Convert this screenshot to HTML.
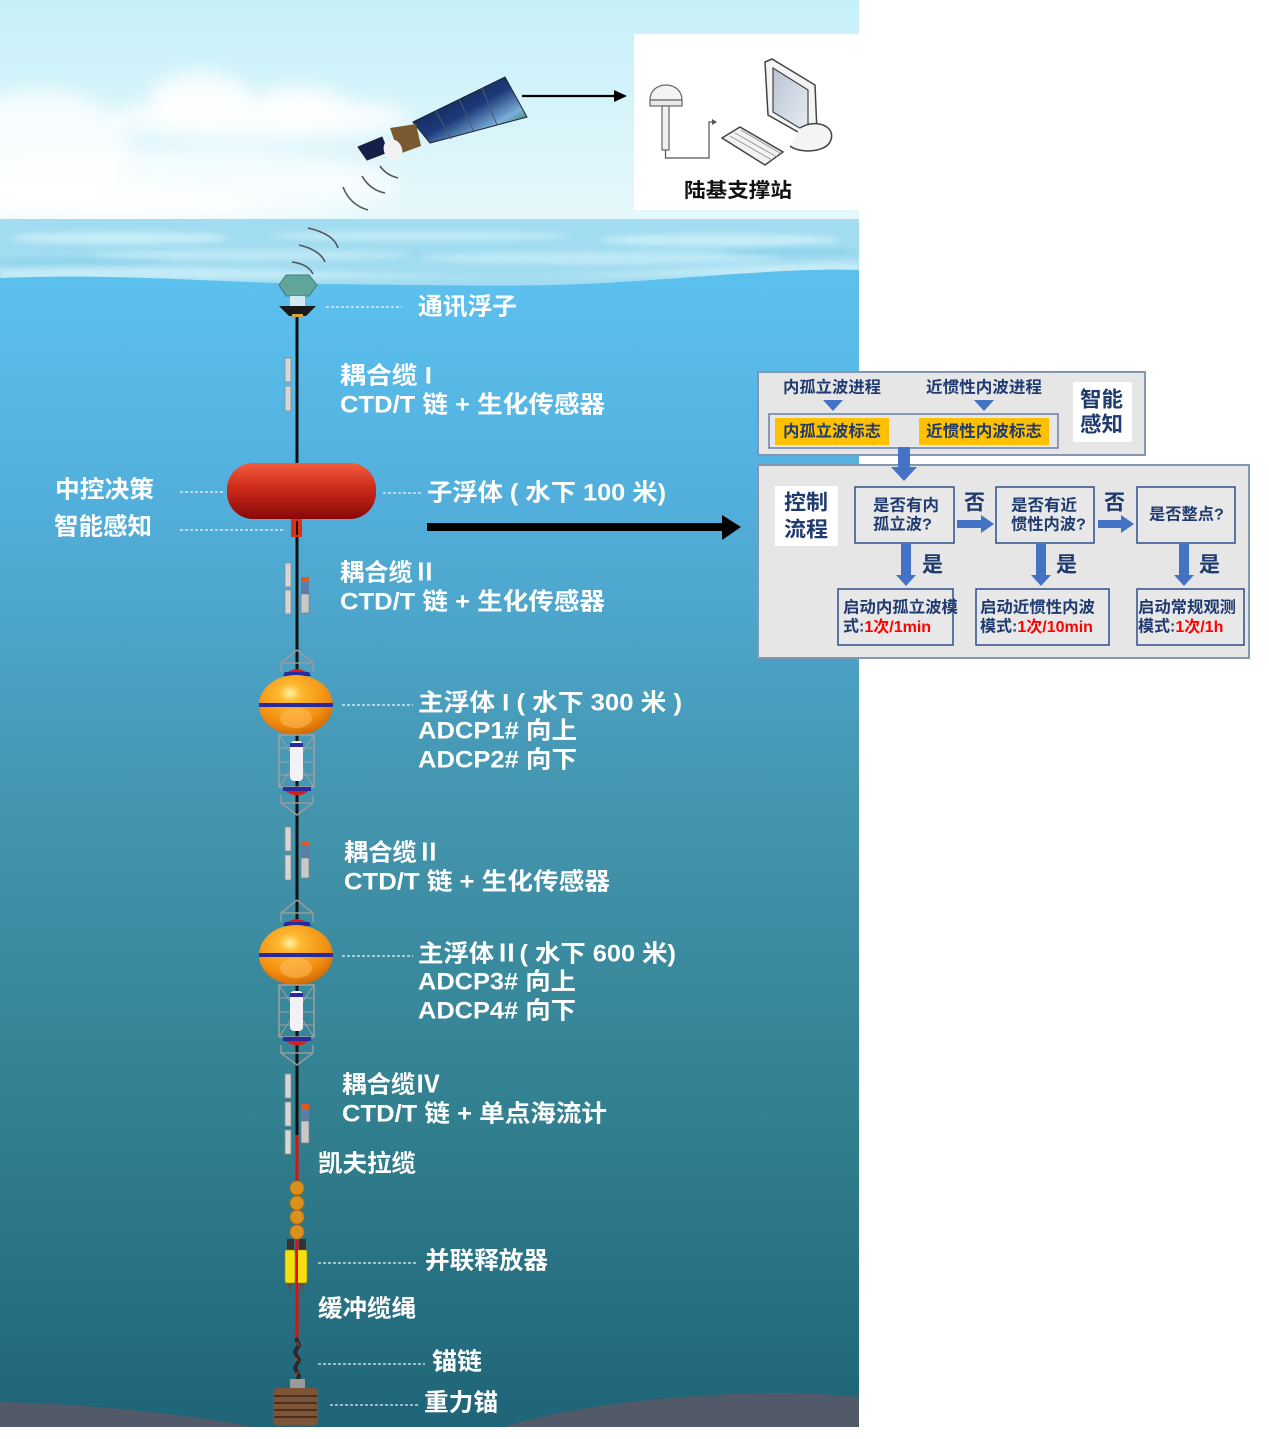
<!DOCTYPE html>
<html><head><meta charset="utf-8">
<style>
html,body{margin:0;padding:0;background:#fff;}
svg{display:block}
text{font-family:"Liberation Sans","Noto Sans CJK SC",sans-serif;font-weight:bold;}
.w{fill:#fff;font-size:24px;}
.n{fill:#1f3a6e;}
.ld{stroke:#fff;stroke-width:1.2;stroke-dasharray:3 2;opacity:.9;fill:none}
</style></head><body>
<svg width="1269" height="1439" viewBox="0 0 1269 1439" xmlns="http://www.w3.org/2000/svg">
<defs>
 <clipPath id="img"><rect x="0" y="0" width="859" height="1427"/></clipPath>
 <linearGradient id="sky" x1="0" y1="0" x2="0" y2="1">
  <stop offset="0" stop-color="#c6f0f9"/><stop offset="1" stop-color="#e6f8fb"/>
 </linearGradient>
 <linearGradient id="sea" x1="0" y1="280" x2="0" y2="1427" gradientUnits="userSpaceOnUse">
  <stop offset="0" stop-color="#5cc0ef"/>
  <stop offset="0.19" stop-color="#52afdc"/>
  <stop offset="0.44" stop-color="#4597b1"/>
  <stop offset="0.75" stop-color="#307e8d"/>
  <stop offset="1" stop-color="#1f6478"/>
 </linearGradient>
 <linearGradient id="red" x1="0" y1="0" x2="0" y2="1">
  <stop offset="0" stop-color="#f25c3e"/><stop offset="0.45" stop-color="#cc2a1a"/><stop offset="1" stop-color="#880808"/>
 </linearGradient>
 <radialGradient id="orb" cx="0.42" cy="0.3" r="0.75">
  <stop offset="0" stop-color="#fff2a0"/><stop offset="0.2" stop-color="#ffb830"/><stop offset="0.7" stop-color="#f08c10"/><stop offset="1" stop-color="#c86400"/>
 </radialGradient>
 <linearGradient id="panel" x1="0" y1="0" x2="1" y2="1">
  <stop offset="0" stop-color="#0b1430"/><stop offset="0.5" stop-color="#1c3a7a"/><stop offset="0.72" stop-color="#7ab0d8"/><stop offset="0.85" stop-color="#3a7a5a"/><stop offset="1" stop-color="#0b1836"/>
 </linearGradient>
 <linearGradient id="scr" x1="0" y1="0" x2="1" y2="1">
  <stop offset="0" stop-color="#b8c4d4"/><stop offset="1" stop-color="#e8ecf2"/>
 </linearGradient>
 <filter id="bl" x="-50%" y="-50%" width="200%" height="200%"><feGaussianBlur stdDeviation="9"/></filter>
 <filter id="bl2" x="-50%" y="-50%" width="200%" height="200%"><feGaussianBlur stdDeviation="3"/></filter>
</defs>

<g clip-path="url(#img)">
<!-- SKY -->
<rect x="0" y="0" width="859" height="222" fill="url(#sky)"/>
<g filter="url(#bl)" fill="#fff">
 <ellipse cx="260" cy="118" rx="150" ry="22" opacity=".85"/>
 <ellipse cx="200" cy="98" rx="50" ry="26" opacity=".85"/>
 <ellipse cx="300" cy="105" rx="45" ry="20" opacity=".75"/>
 <ellipse cx="40" cy="150" rx="90" ry="60" opacity=".8"/>
 <ellipse cx="180" cy="185" rx="220" ry="35" opacity=".7"/>
 <ellipse cx="100" cy="205" rx="160" ry="20" opacity=".75"/>
</g>

<!-- SURFACE BAND -->
<rect x="0" y="219" width="859" height="70" fill="#a2dcf0"/>
<g filter="url(#bl2)">
 <ellipse cx="120" cy="238" rx="110" ry="6" fill="#c6edf8"/>
 <ellipse cx="420" cy="236" rx="150" ry="5" fill="#c0eaf6"/>
 <ellipse cx="720" cy="240" rx="120" ry="6" fill="#c6edf8"/>
 <ellipse cx="250" cy="255" rx="160" ry="5" fill="#bde9f6"/>
 <ellipse cx="600" cy="258" rx="180" ry="6" fill="#bde9f6"/>
 <ellipse cx="80" cy="262" rx="90" ry="4" fill="#8fd3ec"/>
 <ellipse cx="790" cy="252" rx="70" ry="4" fill="#8fd3ec"/>
 <path d="M0,270 C150,262 300,272 450,276 C600,280 750,262 859,262 L859,275 L0,280 Z" fill="#c4ecf7"/>
</g>
<!-- WATER -->
<path d="M0,278 C120,273 220,283 320,284 C440,285 530,288 620,282 C720,276 790,268 859,270 L859,1427 L0,1427 Z" fill="url(#sea)"/>
<!-- SEAFLOOR -->
<path d="M0,1402 C60,1403 160,1410 255,1427 L505,1427 C570,1405 690,1393 780,1393 C820,1393 845,1396 859,1397 L859,1427 L0,1427 Z" fill="#525a69"/>
</g>

<!-- STATION -->
<rect x="634" y="34" width="225" height="176" fill="#fff"/>
<path d="M650,100 C650,80 682,80 682,100 Z" fill="#f4f4f4" stroke="#666" stroke-width="1.2"/>
<rect x="650" y="100" width="32" height="6" fill="#e8e8e8" stroke="#666" stroke-width="1.2"/>
<rect x="662" y="106" width="7" height="44" fill="#f0f0f0" stroke="#666" stroke-width="1.2"/>
<path d="M665.5,150 L665.5,158 L709,158 L709,122 L713,122" fill="none" stroke="#555" stroke-width="1.2"/>
<path d="M712,119 L717,122 L712,125 Z" fill="#555"/>
<path d="M765,62 L772,59 L815,85 L817,132 L812,140 L768,115 Z" fill="#f4f4f4" stroke="#444" stroke-width="1.5"/>
<path d="M773,68 L808,90 L808,133 L773,112 Z" fill="url(#scr)" stroke="#444" stroke-width="1.2"/>
<path d="M800,128 C815,118 838,126 830,142 C825,152 800,154 790,146" fill="#f4f4f4" stroke="#444" stroke-width="1.5"/>
<path d="M722,138 L740,127 L783,152 L765,165 Z" fill="#f2f2f2" stroke="#444" stroke-width="1.5"/>
<g stroke="#999" stroke-width="1" fill="none">
 <path d="M730,136 L772,160"/><path d="M735,133 L777,157"/><path d="M741,130 L780,153"/>
</g>
<text x="738" y="191" font-size="20" fill="#111" dominant-baseline="central" text-anchor="middle" textLength="108" lengthAdjust="spacingAndGlyphs">陆基支撑站</text>

<!-- SATELLITE ARROW -->
<line x1="522" y1="96" x2="616" y2="96" stroke="#000" stroke-width="2.2"/>
<path d="M614,90 L627,96 L614,102 Z" fill="#000"/>

<!-- SATELLITE -->
<path d="M413,122 L505,77 L527,117 L430,143 Z" fill="url(#panel)" stroke="#223" stroke-width="1"/>
<g stroke="#556" stroke-width="1"><line x1="436" y1="111" x2="451" y2="139"/><line x1="459" y1="99" x2="474" y2="132"/><line x1="482" y1="88" x2="497" y2="125"/></g>
<path d="M358,147 L382,137 L388,152 L367,160 Z" fill="#14204a" stroke="#223" stroke-width="1"/>
<path d="M390,128 L416,124 L421,146 L399,154 Z" fill="#7a5a30"/>
<ellipse cx="393" cy="150" rx="9" ry="11" fill="#f2f2f2" transform="rotate(-25 393 150)"/>
<g fill="none" stroke="#555" stroke-width="1.6">
 <path d="M380,166 Q386,175 398,178"/>
 <path d="M362,176 Q370,190 385,193"/>
 <path d="M343,187 Q350,205 368,210"/>
</g>

<!-- BUOY WAVES -->
<g fill="none" stroke="#555" stroke-width="1.6">
 <path d="M292,262 Q308,264 313,274"/>
 <path d="M299,245 Q320,250 325,262"/>
 <path d="M308,228 Q334,234 338,248"/>
</g>

<!-- MAIN LINE -->
<line x1="297" y1="312" x2="297" y2="1140" stroke="#111" stroke-width="3"/>
<line x1="297" y1="1135" x2="297" y2="1340" stroke="#e01010" stroke-width="3"/>
<path d="M296,1338 L299,1345 L295,1352 L299,1360 L295,1368 L299,1376 L296,1384" fill="none" stroke="#2a2a2a" stroke-width="4"/>
<path d="M297,1342 l2,4 M296,1358 l2,3 M298,1372 l-2,3" stroke="#c03030" stroke-width="1.5"/>

<!-- COMM BUOY -->
<path d="M286,275 L309,275 L317,285 L309,296 L286,296 L279,285 Z" fill="#5fa59a" stroke="#3f7f78" stroke-width="1"/>
<rect x="290" y="296" width="15" height="10" fill="#cfe9f5"/>
<path d="M279,306 L316,306 L306,316 L289,316 Z" fill="#1a1a1a"/>
<rect x="292" y="314" width="11" height="3" fill="#c9a640"/>

<!-- SENSORS -->
<g fill="#d6d6d6" stroke="#8a8a8a" stroke-width="0.8">
 <rect x="285" y="358" width="6" height="24"/><rect x="285" y="386" width="6" height="25"/>
 <rect x="285" y="563" width="6" height="24"/><rect x="285" y="590" width="6" height="24"/>
 <rect x="285" y="827" width="6" height="24"/><rect x="285" y="855" width="6" height="25"/>
 <rect x="285" y="1074" width="6" height="24"/><rect x="285" y="1102" width="6" height="24"/><rect x="285" y="1130" width="6" height="24"/>
</g>
<g>
 <rect x="301" y="577" width="8" height="5" fill="#e05a20"/><rect x="301" y="582" width="8" height="12" fill="#5a7ea8"/><rect x="301" y="594" width="8" height="19" fill="#c8c8c8" stroke="#777" stroke-width=".6"/>
 <rect x="301" y="841" width="8" height="5" fill="#e05a20"/><rect x="301" y="846" width="8" height="12" fill="#5a7ea8"/><rect x="301" y="858" width="8" height="20" fill="#c8c8c8" stroke="#777" stroke-width=".6"/>
 <rect x="301" y="1104" width="8" height="5" fill="#e05a20"/><rect x="301" y="1109" width="8" height="12" fill="#5a7ea8"/><rect x="301" y="1121" width="8" height="22" fill="#c8c8c8" stroke="#777" stroke-width=".6"/>
</g>

<!-- SUB FLOAT -->
<rect x="227" y="463" width="149" height="56" rx="26" fill="url(#red)"/>
<rect x="291" y="519" width="11" height="18" fill="#e03010"/>
<line x1="297" y1="521" x2="297" y2="535" stroke="#111" stroke-width="2"/>

<!-- MAIN FLOAT I -->
<g id="mf">
 <path d="M297,650 L281,663 L281,672 M297,650 L313,663 L313,672 M281,663 L313,663" fill="none" stroke="#9a9a9a" stroke-width="1.5"/>
 <path d="M283,676 Q297,662 311,676 Z" fill="#d02020"/><path d="M283,676 L311,676 L309,672 L285,672 Z" fill="#2a2aa0"/>
 <ellipse cx="296" cy="705" rx="37" ry="30" fill="url(#orb)"/>
 <ellipse cx="296" cy="718" rx="16" ry="10" fill="#ffc060" opacity=".5"/>
 <rect x="259" y="703" width="74" height="4" fill="#2a2aa0"/>
 <rect x="279" y="735" width="35" height="52" fill="none" stroke="#a0a0a0" stroke-width="1.5"/>
 <path d="M279,748 L314,748 M279,762 L314,762 M279,775 L314,775 M279,735 L314,787 M314,735 L279,787" stroke="#a0a0a0" stroke-width="1"/>
 <rect x="290" y="741" width="13" height="40" rx="4" fill="#f2f2f6"/>
 <rect x="290" y="743" width="13" height="4" fill="#2a2aa0"/>
 <path d="M283,789 L311,789 Q297,802 283,789 Z" fill="#d02020"/><rect x="283" y="787" width="28" height="4" fill="#2a2aa0"/>
 <path d="M281,795 L281,803 L297,815 L313,803 L313,795 M281,803 L313,803" fill="none" stroke="#9a9a9a" stroke-width="1.5"/>
</g>
<use href="#mf" transform="translate(0,250)"/>

<!-- LOWER HARDWARE -->
<g fill="#d9911e" stroke="#b06a10" stroke-width=".8">
 <circle cx="297" cy="1188" r="7"/>
 <circle cx="297" cy="1203" r="7"/><circle cx="297" cy="1217" r="7"/><circle cx="297" cy="1232" r="7"/>
</g>
<rect x="287" y="1239" width="7" height="11" fill="#333"/><rect x="299" y="1239" width="7" height="11" fill="#333"/>
<rect x="285" y="1250" width="10" height="33" rx="2" fill="#f2e010" stroke="#a09000" stroke-width=".6"/>
<rect x="297" y="1250" width="10" height="33" rx="2" fill="#f2e010" stroke="#a09000" stroke-width=".6"/>
<path d="M287,1283 L293,1283 L290,1293 Z M299,1283 L305,1283 L302,1293 Z" fill="#555"/>
<line x1="297" y1="1240" x2="297" y2="1290" stroke="#e01010" stroke-width="2"/>
<rect x="290" y="1379" width="15" height="10" fill="#9a9a9a"/>
<rect x="273" y="1388" width="45" height="37" rx="4" fill="#7d5438"/>
<g stroke="#4a2e1e" stroke-width="2"><line x1="274" y1="1396" x2="317" y2="1396"/><line x1="274" y1="1403" x2="317" y2="1403"/><line x1="274" y1="1410" x2="317" y2="1410"/><line x1="274" y1="1417" x2="317" y2="1417"/></g>

<!-- LEADERS -->
<line class="ld" x1="326" y1="307" x2="402" y2="307"/>
<line class="ld" x1="180" y1="492" x2="225" y2="492"/>
<line class="ld" x1="180" y1="530" x2="283" y2="530"/>
<line class="ld" x1="383" y1="493" x2="421" y2="493"/>
<line class="ld" x1="342" y1="705" x2="413" y2="705"/>
<line class="ld" x1="342" y1="956" x2="413" y2="956"/>
<line class="ld" x1="318" y1="1263" x2="418" y2="1263"/>
<line class="ld" x1="318" y1="1364" x2="425" y2="1364"/>
<line class="ld" x1="330" y1="1405" x2="420" y2="1405"/>

<!-- WHITE LABELS -->
<g class="w" dominant-baseline="central">
<text x="418" y="307" textLength="99" lengthAdjust="spacingAndGlyphs">通讯浮子</text>
<text x="340" y="376" textLength="92" lengthAdjust="spacingAndGlyphs">耦合缆 I</text>
<text x="340" y="405" textLength="265" lengthAdjust="spacingAndGlyphs">CTD/T 链 + 生化传感器</text>
<text x="55" y="490" textLength="99" lengthAdjust="spacingAndGlyphs">中控决策</text>
<text x="54" y="527" textLength="98" lengthAdjust="spacingAndGlyphs">智能感知</text>
<text x="427" y="493" textLength="239" lengthAdjust="spacingAndGlyphs">子浮体 ( 水下 100 米)</text>
<text x="340" y="573" textLength="97" lengthAdjust="spacingAndGlyphs">耦合缆Ⅱ</text>
<text x="340" y="602" textLength="265" lengthAdjust="spacingAndGlyphs">CTD/T 链 + 生化传感器</text>
<text x="418" y="703" textLength="264" lengthAdjust="spacingAndGlyphs">主浮体 I ( 水下 300 米 )</text>
<text x="418" y="731" textLength="159" lengthAdjust="spacingAndGlyphs">ADCP1# 向上</text>
<text x="418" y="760" textLength="159" lengthAdjust="spacingAndGlyphs">ADCP2# 向下</text>
<text x="344" y="853" textLength="97" lengthAdjust="spacingAndGlyphs">耦合缆Ⅱ</text>
<text x="344" y="882" textLength="266" lengthAdjust="spacingAndGlyphs">CTD/T 链 + 生化传感器</text>
<text x="418" y="954" textLength="258" lengthAdjust="spacingAndGlyphs">主浮体Ⅱ( 水下 600 米)</text>
<text x="418" y="982" textLength="158" lengthAdjust="spacingAndGlyphs">ADCP3# 向上</text>
<text x="418" y="1011" textLength="158" lengthAdjust="spacingAndGlyphs">ADCP4# 向下</text>
<text x="342" y="1085" textLength="98" lengthAdjust="spacingAndGlyphs">耦合缆Ⅳ</text>
<text x="342" y="1114" textLength="265" lengthAdjust="spacingAndGlyphs">CTD/T 链 + 单点海流计</text>
<text x="318" y="1164" textLength="98" lengthAdjust="spacingAndGlyphs">凯夫拉缆</text>
<text x="425" y="1261" textLength="123" lengthAdjust="spacingAndGlyphs">并联释放器</text>
<text x="318" y="1309" textLength="98" lengthAdjust="spacingAndGlyphs">缓冲缆绳</text>
<text x="432" y="1362" textLength="50" lengthAdjust="spacingAndGlyphs">锚链</text>
<text x="424" y="1403" textLength="74" lengthAdjust="spacingAndGlyphs">重力锚</text>
</g>

<!-- BIG ARROW -->
<rect x="427" y="523" width="298" height="8" fill="#000"/>
<path d="M722,515 L741,527 L722,540 Z" fill="#000"/>

<!-- FLOW CHART: top panel -->
<rect x="758" y="372" width="387" height="83" fill="#e6e6e6" stroke="#8497b0" stroke-width="2"/>
<g class="n" font-size="16" dominant-baseline="central">
 <text x="783" y="388" textLength="98" lengthAdjust="spacingAndGlyphs">内孤立波进程</text>
 <text x="926" y="388" textLength="116" lengthAdjust="spacingAndGlyphs">近惯性内波进程</text>
</g>
<path d="M823,400 L843,400 L833,411 Z M974,400 L994,400 L984,411 Z" fill="#4472c4"/>
<rect x="769" y="414" width="289" height="34" fill="#e6e6e6" stroke="#6b7ea8" stroke-width="1.5"/>
<rect x="775" y="418" width="114" height="27" fill="#ffc000"/>
<rect x="919" y="418" width="130" height="27" fill="#ffc000"/>
<g class="n" font-size="16" dominant-baseline="central">
 <text x="783" y="432" textLength="98" lengthAdjust="spacingAndGlyphs">内孤立波标志</text>
 <text x="926" y="432" textLength="116" lengthAdjust="spacingAndGlyphs">近惯性内波标志</text>
</g>
<rect x="1073" y="382" width="59" height="60" fill="#fff"/>
<g class="n" font-size="21" dominant-baseline="central">
 <text x="1080" y="400" textLength="43" lengthAdjust="spacingAndGlyphs">智能</text>
 <text x="1080" y="425" textLength="43" lengthAdjust="spacingAndGlyphs">感知</text>
</g>

<!-- bottom panel -->
<rect x="758" y="465" width="491" height="193" fill="#e6e6e6" stroke="#8497b0" stroke-width="2"/>
<rect x="898" y="447" width="12" height="22" fill="#4472c4"/>
<path d="M891,467 L917,467 L904,481 Z" fill="#4472c4"/>
<rect x="775" y="486" width="63" height="60" fill="#fff"/>
<g class="n" font-size="21" dominant-baseline="central">
 <text x="784" y="503" textLength="44" lengthAdjust="spacingAndGlyphs">控制</text>
 <text x="784" y="530" textLength="44" lengthAdjust="spacingAndGlyphs">流程</text>
</g>
<g fill="#e8e8e8" stroke="#2f4f8a" stroke-width="1.5">
 <rect x="855" y="487" width="99" height="56"/>
 <rect x="996" y="487" width="98" height="56"/>
 <rect x="1137" y="487" width="98" height="56"/>
 <rect x="838" y="589" width="115" height="56"/>
 <rect x="976" y="589" width="133" height="56"/>
 <rect x="1137" y="589" width="107" height="56"/>
</g>
<g class="n" font-size="16" dominant-baseline="central">
 <text x="873" y="506" textLength="66" lengthAdjust="spacingAndGlyphs">是否有内</text>
 <text x="873" y="525" textLength="59" lengthAdjust="spacingAndGlyphs">孤立波?</text>
 <text x="1011" y="506" textLength="66" lengthAdjust="spacingAndGlyphs">是否有近</text>
 <text x="1011" y="525" textLength="75" lengthAdjust="spacingAndGlyphs">惯性内波?</text>
 <text x="1149" y="515" textLength="75" lengthAdjust="spacingAndGlyphs">是否整点?</text>
 <text x="843" y="608" textLength="115" lengthAdjust="spacingAndGlyphs">启动内孤立波模</text>
 <text x="843" y="627">式:<tspan fill="#ff0000">1次/1min</tspan></text>
 <text x="980" y="608" textLength="115" lengthAdjust="spacingAndGlyphs">启动近惯性内波</text>
 <text x="980" y="627">模式:<tspan fill="#ff0000">1次/10min</tspan></text>
 <text x="1138" y="608" textLength="98" lengthAdjust="spacingAndGlyphs">启动常规观测</text>
 <text x="1138" y="627">模式:<tspan fill="#ff0000">1次/1h</tspan></text>
</g>
<g class="n" font-size="21" dominant-baseline="central">
 <text x="964" y="503">否</text>
 <text x="1104" y="503">否</text>
 <text x="922" y="565">是</text>
 <text x="1056" y="565">是</text>
 <text x="1199" y="565">是</text>
</g>
<g fill="#4472c4">
 <rect x="957" y="520" width="26" height="8"/><path d="M981,515 L994,524 L981,533 Z"/>
 <rect x="1098" y="520" width="25" height="8"/><path d="M1121,515 L1134,524 L1121,533 Z"/>
 <rect x="901" y="544" width="10" height="32"/><path d="M896,575 L916,575 L906,586 Z"/>
 <rect x="1036" y="544" width="10" height="32"/><path d="M1031,575 L1051,575 L1041,586 Z"/>
 <rect x="1179" y="544" width="10" height="32"/><path d="M1174,575 L1194,575 L1184,586 Z"/>
</g>
</svg>
</body></html>
